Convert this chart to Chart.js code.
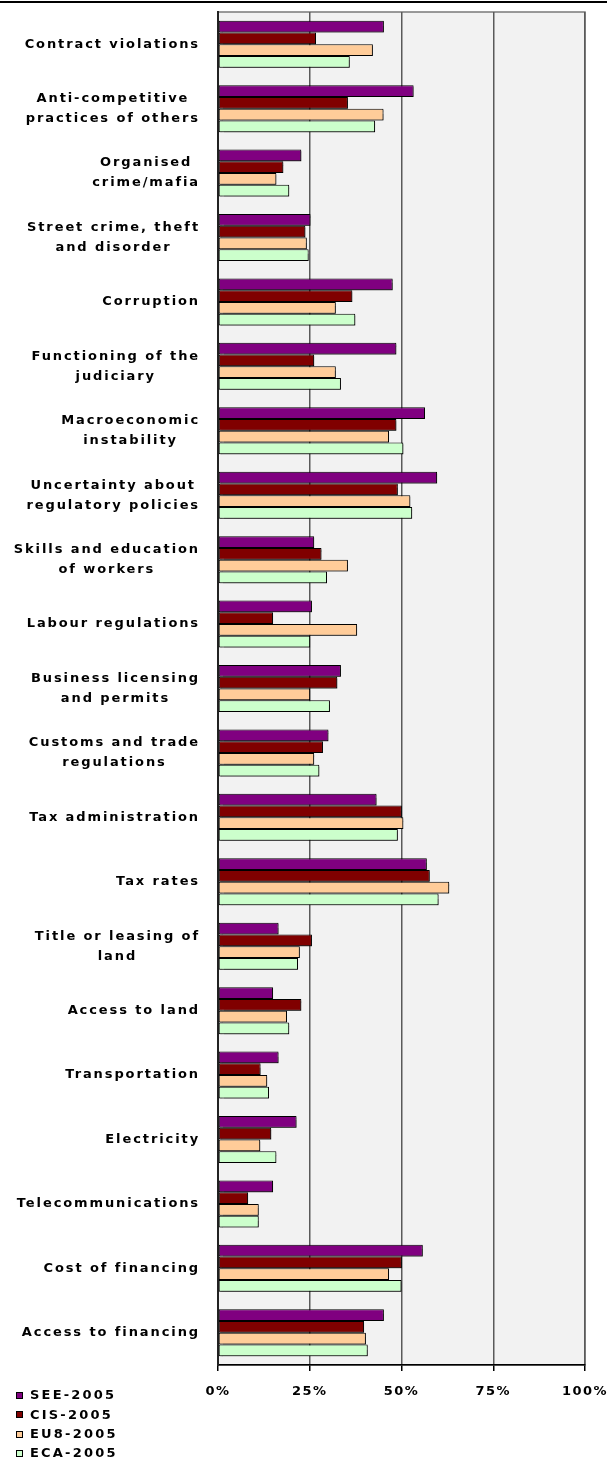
<!DOCTYPE html>
<html>
<head>
<meta charset="utf-8">
<script src="https://cdn.jsdelivr.net/npm/chart.js@4.4.1/dist/chart.umd.min.js"></script>
<style>
  html, body { margin: 0; padding: 0; background: #ffffff; }
  #wrap { position: relative; width: 607px; height: 1463px; }
</style>
</head>
<body>
<div id="wrap"><canvas id="c" width="607" height="1463"></canvas></div>
<script>
// Obstacles to doing business: share of firms rating each item a problem (%)
const categories = [
  ['Contract violations'],
  ['Anti-competitive', 'practices of others'],
  ['Organised', 'crime/mafia'],
  ['Street crime, theft', 'and disorder'],
  ['Corruption'],
  ['Functioning of the', 'judiciary'],
  ['Macroeconomic', 'instability'],
  ['Uncertainty about', 'regulatory policies'],
  ['Skills and education', 'of workers'],
  ['Labour regulations'],
  ['Business licensing', 'and permits'],
  ['Customs and trade', 'regulations'],
  ['Tax administration'],
  ['Tax rates'],
  ['Title or leasing of', 'land'],
  ['Access to land'],
  ['Transportation'],
  ['Electricity'],
  ['Telecommunications'],
  ['Cost of financing'],
  ['Access to financing']
];

const see2005 = [45.2, 53.3, 22.7, 25.2, 47.6, 48.6, 56.4, 59.7, 26.2, 25.6, 33.5, 30.1, 43.2, 56.9, 16.5, 15.0, 16.5, 21.4, 15.0, 55.8, 45.2];
const cis2005 = [26.7, 35.4, 17.8, 23.8, 36.6, 26.2, 48.6, 49.0, 28.2, 15.0, 32.5, 28.6, 50.1, 57.7, 25.6, 22.7, 11.6, 14.5, 8.2, 50.1, 39.8];
const eu82005 = [42.2, 45.1, 15.9, 24.2, 32.1, 32.1, 46.6, 52.4, 35.4, 37.9, 25.1, 26.2, 50.5, 63.0, 22.3, 18.8, 13.4, 11.5, 11.1, 46.6, 40.3];
const eca2005 = [35.9, 42.8, 19.4, 24.7, 37.4, 33.5, 50.5, 52.9, 29.7, 25.1, 30.5, 27.6, 49.0, 60.1, 21.8, 19.4, 13.9, 15.9, 11.1, 50.0, 40.8];

const seriesNames = ['SEE-2005', 'CIS-2005', 'EU8-2005', 'ECA-2005'];
const seriesValues = [see2005, cis2005, eu82005, eca2005];
const seriesColors = ['#800080', '#800000', '#ffcc99', '#ccffcc'];

const xTicks = [0, 25, 50, 75, 100];

const FONT = '"DejaVu Sans", "Liberation Sans", sans-serif';

// Grey plot panel, its frame, and the rule along the top of the page
const panelPlugin = {
  id: 'panel',
  beforeDraw(chart) {
    const { ctx, chartArea: a, width } = chart;
    ctx.letterSpacing = '1.5px';
    ctx.save();
    ctx.fillStyle = '#000000';
    ctx.fillRect(0, 1, width, 2);
    ctx.fillStyle = '#f2f2f2';
    ctx.fillRect(a.left, a.top, a.right - a.left, a.bottom - a.top);
    ctx.strokeStyle = '#7a7a7a';
    ctx.lineWidth = 1.5;
    ctx.strokeRect(a.left, a.top, a.right - a.left, a.bottom - a.top);
    ctx.restore();
  }
};

// Soft drop shadow under every bar
const shadowPlugin = {
  id: 'barShadow',
  beforeDatasetsDraw(chart) {
    const ctx = chart.ctx;
    ctx.save();
    ctx.shadowColor = 'rgba(0,0,0,0.45)';
    ctx.shadowOffsetX = 1.5;
    ctx.shadowOffsetY = 1.5;
    ctx.shadowBlur = 1;
  },
  afterDatasetsDraw(chart) {
    chart.ctx.restore();
  }
};

// Category labels: each block sits against the axis, its lines centred on one another
const categoryLabelPlugin = {
  id: 'categoryLabels',
  afterDraw(chart) {
    const { ctx } = chart;
    const y = chart.scales.y;
    const right = y.right - 18;
    const lineGap = 20;
    ctx.save();
    ctx.font = 'bold 13px ' + FONT;
    ctx.letterSpacing = '1.9px';
    ctx.fillStyle = '#000000';
    ctx.textAlign = 'center';
    ctx.textBaseline = 'middle';
    chart.data.labels.forEach((lines, i) => {
      const cy = y.getPixelForValue(i);
      const w = Math.max(...lines.map(l => ctx.measureText(l).width));
      const cx = right - w / 2;
      lines.forEach((line, k) => {
        ctx.fillText(line, cx, cy + (k - (lines.length - 1) / 2) * lineGap);
      });
    });
    ctx.restore();
  }
};

// Legend stacked in the lower-left corner
const legendPlugin = {
  id: 'stackedLegend',
  afterDraw(chart) {
    const { ctx } = chart;
    const x0 = 16, box = 7, top = 1395.5, step = 19.3;
    ctx.save();
    ctx.font = 'bold 13px ' + FONT;
    ctx.letterSpacing = '2.2px';
    ctx.textAlign = 'left';
    ctx.textBaseline = 'middle';
    chart.data.datasets.forEach((ds, i) => {
      const cy = top + i * step;
      ctx.fillStyle = ds.backgroundColor;
      ctx.fillRect(x0, Math.round(cy - box / 2), box, box);
      ctx.strokeStyle = '#000000';
      ctx.lineWidth = 1;
      ctx.strokeRect(x0 + 0.5, Math.round(cy - box / 2) + 0.5, box - 1, box - 1);
      ctx.fillStyle = '#000000';
      ctx.fillText(ds.label, 30, cy + 0.5);
    });
    ctx.restore();
  }
};

const chart = new Chart(document.getElementById('c'), {
  type: 'bar',
  data: {
    labels: categories,
    datasets: seriesNames.map((name, i) => ({
      label: name,
      data: seriesValues[i],
      backgroundColor: seriesColors[i],
      borderColor: '#000000',
      borderWidth: 1,
      borderSkipped: false
    }))
  },
  options: {
    indexAxis: 'y',
    responsive: false,
    animation: false,
    events: [],
    layout: { padding: { top: 12, right: 22, bottom: 0, left: 0 } },
    datasets: { bar: { categoryPercentage: 0.73, barPercentage: 1.0 } },
    plugins: {
      legend: { display: false },
      tooltip: { enabled: false }
    },
    scales: {
      x: {
        min: 0,
        max: 100,
        afterBuildTicks: scale => { scale.ticks = xTicks.map(v => ({ value: v })); },
        afterFit: scale => {
          scale.height = 98;
          scale.paddingLeft = 0;
          scale.paddingRight = 0;
        },
        ticks: {
          callback: v => v + '%',
          color: '#000000',
          padding: 13,
          maxRotation: 0,
          font: { family: FONT, size: 13, weight: 'bold' }
        },
        grid: {
          color: '#5a5a5a',
          lineWidth: 1.5,
          tickColor: '#000000',
          tickLength: 6,
          tickWidth: 1.5
        },
        border: { color: '#000000', width: 1.5 }
      },
      y: {
        afterFit: scale => { scale.width = 218; },
        ticks: { display: false },
        grid: { display: false, drawTicks: false },
        border: { color: '#222222', width: 2 }
      }
    }
  },
  plugins: [panelPlugin, shadowPlugin, categoryLabelPlugin, legendPlugin]
});
</script>
</body>
</html>
